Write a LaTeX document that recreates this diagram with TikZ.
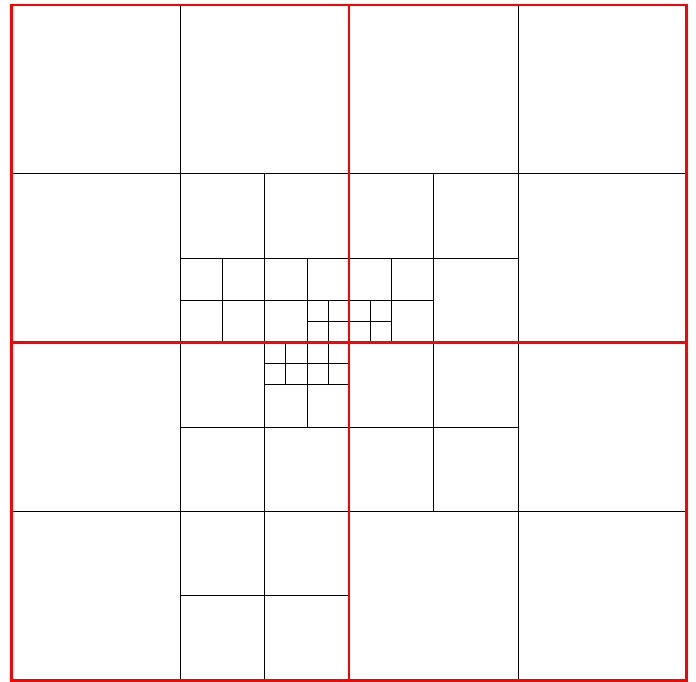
\documentclass[tikz,border=0pt]{standalone}
\begin{document}
\begin{tikzpicture}[x=42.2pt,y=-42.2pt,
  cellline/.style={draw=black,line width=0.8pt},
  redline/.style={draw=red,line width=2.6pt}]
\useasboundingbox (-11.5pt,5pt) rectangle (684.5pt,-677pt);
% vertical black lines
\foreach \x/\a/\b in {4/0/16,12/0/16,6/4/16,10/4/12,5/6/8,7/6/10,9/6/8,7.5/7/9,8.5/7/8,6.5/8/9}
  \draw[cellline] (\x,\a) -- (\x,\b);
% horizontal black lines
\foreach \y/\a/\b in {4/0/16,12/0/16,6/4/12,10/4/12,14/4/8,7/4/10,9/6/8,7.5/7/9,8.5/6/8}
  \draw[cellline] (\a,\y) -- (\b,\y);
% red lines
\draw[redline] (0,0) rectangle (16,16);
\draw[redline] (8,0) -- (8,16);
\draw[redline] (0,8) -- (16,8);
\end{tikzpicture}
\end{document}
